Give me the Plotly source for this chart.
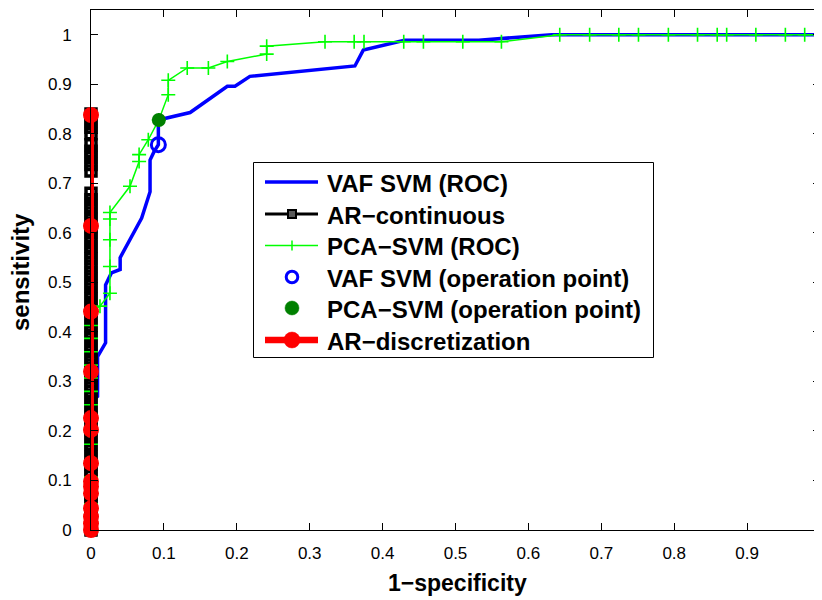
import plotly.graph_objects as go

# ---- data ----
vaf_x = [0, 0, 0.009, 0.009, 0.02, 0.02, 0.028, 0.04, 0.04, 0.0695, 0.081, 0.081, 0.0865,
         0.0924, 0.0924, 0.136, 0.187, 0.1975, 0.218, 0.287, 0.362, 0.3735, 0.43, 0.532, 0.632, 1.0]
vaf_y = [0, 0.26, 0.27, 0.35, 0.378, 0.495, 0.519, 0.526, 0.55, 0.63, 0.683, 0.747, 0.764,
         0.778, 0.828, 0.843, 0.896, 0.896, 0.916, 0.926, 0.937, 0.969, 0.989, 0.989, 1.0, 1.0]

ar_cont_y = [0, 0.012, 0.024, 0.036, 0.048, 0.06, 0.072, 0.084, 0.096, 0.108, 0.12, 0.133,
             0.147, 0.16, 0.173, 0.187, 0.2, 0.213, 0.227, 0.24, 0.253, 0.267, 0.28, 0.293,
             0.307, 0.32, 0.333, 0.347, 0.36, 0.373, 0.387, 0.4, 0.413, 0.427, 0.44, 0.453,
             0.467, 0.48, 0.493, 0.507, 0.52, 0.533, 0.547, 0.56, 0.573, 0.587, 0.6, 0.613,
             0.627, 0.64, 0.653, 0.667, 0.68, 0.725, 0.738, 0.752, 0.765, 0.778, 0.8, 0.813,
             0.827, 0.84]
ar_cont_x = [0] * len(ar_cont_y)

pca_x = [0, 0, 0, 0, 0, 0, 0, 0, 0, 0, 0, 0, 0, 0, 0, 0, 0,
         0.0123, 0.026, 0.026, 0.026, 0.026, 0.026, 0.0535, 0.066, 0.066, 0.0786, 0.093,
         0.106, 0.106, 0.132, 0.161, 0.187, 0.241, 0.241, 0.321, 0.361, 0.3745, 0.429,
         0.456, 0.51, 0.563, 0.643, 0.684, 0.724, 0.751, 0.792, 0.832, 0.859, 0.872,
         0.912, 0.9525, 0.979, 1.0]
pca_y = [0, 0.027, 0.053, 0.08, 0.107, 0.133, 0.173, 0.2, 0.227, 0.253, 0.28, 0.307, 0.333,
         0.36, 0.387, 0.413, 0.44,
         0.452, 0.478, 0.532, 0.586, 0.628, 0.641, 0.694, 0.744, 0.758, 0.788, 0.828,
         0.879, 0.908, 0.933, 0.933, 0.946, 0.961, 0.977, 0.986, 0.986, 0.986, 0.986,
         0.986, 0.986, 0.986, 1.0, 1.0, 1.0, 1.0, 1.0, 1.0, 1.0, 1.0,
         1.0, 1.0, 1.0, 1.0]

vaf_op_x = [0.0924]
vaf_op_y = [0.778]
pca_op_x = [0.093]
pca_op_y = [0.828]

ar_disc_y = [0, 0.013, 0.027, 0.044, 0.074, 0.088, 0.098, 0.135, 0.202, 0.226, 0.32,
             0.441, 0.614, 0.838]
ar_disc_x = [0] * len(ar_disc_y)

x_ticks = [0, 0.1, 0.2, 0.3, 0.4, 0.5, 0.6, 0.7, 0.8, 0.9, 1]
y_ticks = [0, 0.1, 0.2, 0.3, 0.4, 0.5, 0.6, 0.7, 0.8, 0.9, 1]

legend_names = ["VAF SVM (ROC)", "AR−continuous", "PCA−SVM (ROC)",
                "VAF SVM (operation point)", "PCA−SVM (operation point)", "AR−discretization"]

BLUE = "rgb(0,0,255)"
GREEN = "rgb(0,255,0)"
DKGREEN = "rgb(0,128,0)"
RED = "rgb(255,0,0)"
FONT = "Liberation Sans, Arial, Helvetica, sans-serif"

# figure geometry (pixels); the page body adds an 8px offset
OFF = 8
W, H = 822 - OFF, 600 - OFF
ML, MR, MT, MB = 91 - OFF, 2, 10 - OFF, 70
PW, PH = W - ML - MR, H - MT - MB


def px_x(p):
    """screen x pixel -> paper coordinate"""
    return (p - OFF - ML) / PW


def px_y(p):
    """screen y pixel -> paper coordinate"""
    return (H - MB - (p - OFF)) / PH


fig = go.Figure()
fig.add_trace(go.Scatter(x=vaf_x, y=vaf_y, mode="lines", name=legend_names[0],
                         line=dict(color=BLUE, width=3.5), cliponaxis=False))
fig.add_trace(go.Scatter(x=ar_cont_x, y=ar_cont_y, mode="lines+markers", name=legend_names[1],
                         line=dict(color="black", width=3),
                         marker=dict(symbol="square-open", size=10, color="black",
                                     line=dict(width=3.5, color="black")),
                         cliponaxis=False))
fig.add_trace(go.Scatter(x=pca_x, y=pca_y, mode="lines+markers", name=legend_names[2],
                         line=dict(color=GREEN, width=1.5),
                         marker=dict(symbol="cross-thin", size=10, color=GREEN,
                                     line=dict(width=1.6, color=GREEN)),
                         cliponaxis=False))
fig.add_trace(go.Scatter(x=vaf_op_x, y=vaf_op_y, mode="markers", name=legend_names[3],
                         marker=dict(symbol="circle-open", size=14, color=BLUE,
                                     line=dict(width=3, color=BLUE)),
                         cliponaxis=False))
fig.add_trace(go.Scatter(x=pca_op_x, y=pca_op_y, mode="markers", name=legend_names[4],
                         marker=dict(symbol="circle", size=14, color=DKGREEN),
                         cliponaxis=False))
fig.add_trace(go.Scatter(x=ar_disc_x, y=ar_disc_y, mode="lines+markers", name=legend_names[5],
                         line=dict(color=RED, width=6),
                         marker=dict(symbol="circle", size=16, color=RED),
                         cliponaxis=False))

axis_common = dict(showline=True, linecolor="black", linewidth=1, mirror="ticks",
                   ticks="inside", ticklen=7, tickwidth=1, tickcolor="black",
                   showgrid=False, zeroline=False, automargin=False,
                   tickfont=dict(family=FONT, size=17, color="black"))

fig.update_xaxes(range=[0, 1], tickvals=x_ticks, ticktext=[f"{v:g}" for v in x_ticks],
                 ticklabelstandoff=8, **axis_common)
fig.update_yaxes(range=[0, 1.05], tickvals=y_ticks, ticktext=[f"{v:g}" for v in y_ticks],
                 ticklabelstandoff=15, **axis_common)

fig.add_annotation(text="<b>1−specificity</b>", xref="paper", yref="paper",
                   x=px_x(457), y=px_y(583),
                   showarrow=False, xanchor="center", yanchor="middle",
                   font=dict(family=FONT, size=23, color="black"))
fig.add_annotation(text="<b>sensitivity</b>", xref="paper", yref="paper",
                   x=px_x(20), y=px_y(272),
                   showarrow=False, xanchor="center", yanchor="middle", textangle=-90,
                   font=dict(family=FONT, size=24, color="black"))

# ---- hand-built legend (box, glyphs, labels) ----
shapes = []
shapes.append(dict(type="rect", xref="paper", yref="paper",
                   x0=px_x(253.5), x1=px_x(653.5), y0=px_y(357.5), y1=px_y(162.5),
                   line=dict(color="black", width=1), fillcolor="white", layer="above"))
row_y = [182, 214, 245.5, 277, 308, 340]
lx0, lx1, mx = 265, 318, 292
text_x = 325


def hline(y, color, width):
    return dict(type="line", xref="paper", yref="paper", x0=px_x(lx0), x1=px_x(lx1),
                y0=px_y(y), y1=px_y(y), line=dict(color=color, width=width), layer="above")


def circ(y, r, color, fill, lw):
    return dict(type="circle", xref="paper", yref="paper",
                x0=px_x(mx - r), x1=px_x(mx + r), y0=px_y(y + r), y1=px_y(y - r),
                line=dict(color=color, width=lw), fillcolor=fill, layer="above")


shapes.append(hline(row_y[0], BLUE, 3.5))
shapes.append(hline(row_y[1], "black", 3))
shapes.append(dict(type="rect", xref="paper", yref="paper",
                   x0=px_x(mx - 4), x1=px_x(mx + 4), y0=px_y(row_y[1] + 4), y1=px_y(row_y[1] - 4),
                   line=dict(color="black", width=2), fillcolor="rgb(90,90,90)", layer="above"))
shapes.append(hline(row_y[2], GREEN, 1.5))
shapes.append(dict(type="line", xref="paper", yref="paper", x0=px_x(mx), x1=px_x(mx),
                   y0=px_y(row_y[2] + 5), y1=px_y(row_y[2] - 5),
                   line=dict(color=GREEN, width=1.5), layer="above"))
shapes.append(circ(row_y[3], 5.8, BLUE, "white", 3))
shapes.append(circ(row_y[4], 7, DKGREEN, DKGREEN, 0.5))
shapes.append(hline(row_y[5], RED, 6.5))
shapes.append(circ(row_y[5], 8, RED, RED, 0.5))

for name, ry in zip(legend_names, row_y):
    fig.add_annotation(text=f"<b>{name}</b>", xref="paper", yref="paper",
                       x=px_x(text_x), y=px_y(ry + 1), showarrow=False,
                       xanchor="left", yanchor="middle",
                       font=dict(family=FONT, size=24, color="black"))

fig.update_layout(
    width=W, height=H,
    margin=dict(l=ML, r=MR, t=MT, b=MB, autoexpand=False),
    plot_bgcolor="white", paper_bgcolor="white",
    showlegend=False,
    shapes=shapes,
)

fig.write_html("out.html")
